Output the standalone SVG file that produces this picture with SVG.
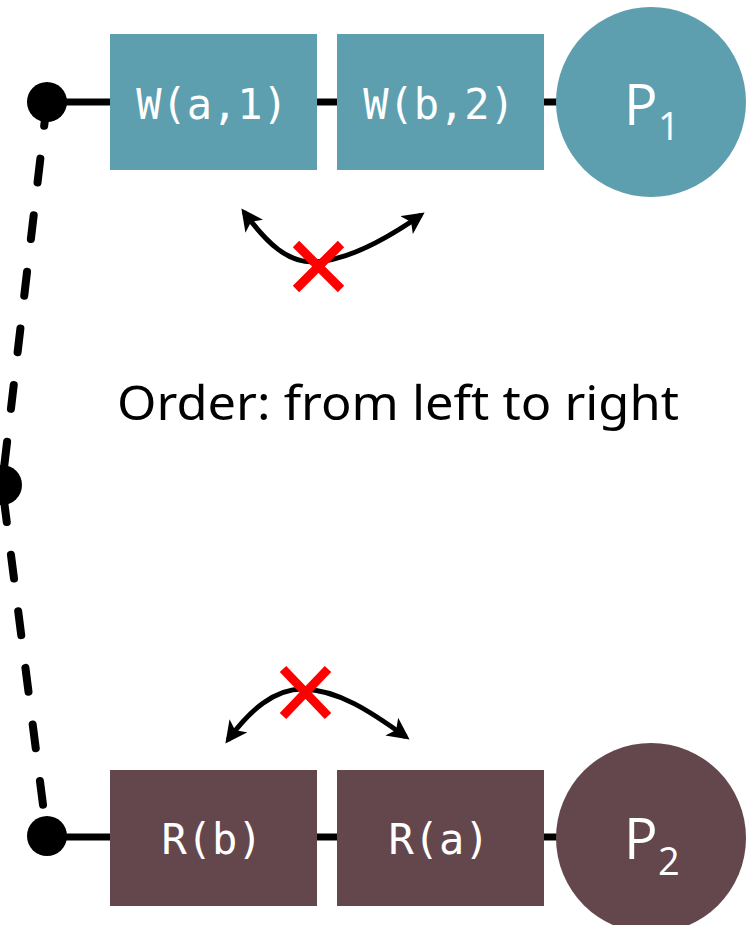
<svg xmlns="http://www.w3.org/2000/svg" width="746" height="925" viewBox="0 0 746 925">
<style>
.teal{fill:#5D9FAF}
.brown{fill:#64474C}
.mono{font-family:"DejaVu Sans Mono","Liberation Mono",monospace;font-size:42px;fill:#fff;text-anchor:middle}
.sans{font-family:"Open Sans","Noto Sans",sans-serif;fill:#fff}
.wire{stroke:#000;stroke-width:7;fill:none}
.dash{stroke:#000;stroke-width:8;fill:none;stroke-linecap:round;stroke-dasharray:24 33}
.arc{stroke:#000;stroke-width:5;fill:none}
.x{stroke:#FF0000;stroke-width:9;fill:none}
</style>
<defs>
<marker id="ah" viewBox="0 0 10 10" refX="8" refY="5" markerWidth="4.4" markerHeight="4.4" orient="auto-start-reverse" markerUnits="strokeWidth">
<path d="M0,0 L10,5 L0,10 L2.5,5 z" fill="#000"/>
</marker>
</defs>
<g id="connectors">
<path class="dash" d="M47,102 L2,485 L47,836"/>
<line class="wire" x1="47" y1="102" x2="110" y2="102"/>
<line class="wire" x1="317" y1="102" x2="337" y2="102"/>
<line class="wire" x1="544" y1="102" x2="560" y2="102"/>
<line class="wire" x1="47" y1="837" x2="110" y2="837"/>
<line class="wire" x1="317" y1="837" x2="337" y2="837"/>
<line class="wire" x1="544" y1="837" x2="560" y2="837"/>
<circle cx="47" cy="102" r="20" fill="#000"/>
<circle cx="2" cy="485" r="20" fill="#000"/>
<circle cx="47" cy="836" r="20" fill="#000"/>
<path class="arc" marker-start="url(#ah)" marker-end="url(#ah)" d="M244,212 C268,245 288,262 313,262 C348,261 388,238 421,215"/>
<path class="arc" marker-start="url(#ah)" marker-end="url(#ah)" d="M228,740 C250,710 274,689 303,689 C338,690 370,711 406,737"/>
<path class="x" d="M296,244 L341,289 M341,244 L296,289"/>
<path class="x" d="M283,669 L328,716 M328,669 L283,716"/>
</g>
<g id="W_a1"><rect class="teal" x="110" y="34" width="207" height="136"/><text class="mono" x="212" y="119">W(a,1)</text></g>
<g id="W_b2"><rect class="teal" x="337" y="34" width="207" height="136"/><text class="mono" x="439" y="119">W(b,2)</text></g>
<g id="P1"><circle class="teal" cx="651" cy="102" r="95"/><text class="sans" x="624" y="125" font-size="56">P</text><text class="sans" x="658" y="140" font-size="38">1</text></g>
<g id="R_b"><rect class="brown" x="110" y="770" width="207" height="136"/><text class="mono" x="212" y="854">R(b)</text></g>
<g id="R_a"><rect class="brown" x="337" y="770" width="207" height="136"/><text class="mono" x="439" y="854">R(a)</text></g>
<g id="P2"><circle class="brown" cx="651" cy="838" r="95"/><text class="sans" x="624" y="859" font-size="56">P</text><text class="sans" x="658" y="875" font-size="38">2</text></g>
<text x="117" y="420" font-family="'Noto Sans','Open Sans',sans-serif" font-size="48" fill="#000" textLength="562" lengthAdjust="spacingAndGlyphs">Order: from left to right</text>
</svg>
